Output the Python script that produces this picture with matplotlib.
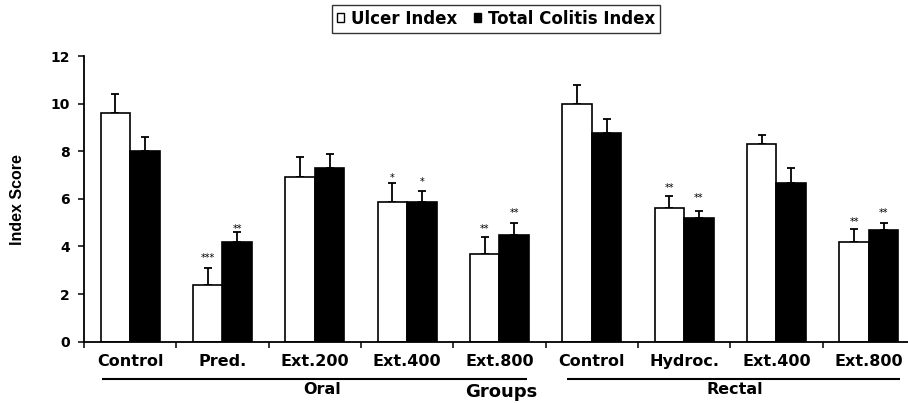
import matplotlib
matplotlib.use("Agg")
import matplotlib.pyplot as plt
import numpy as np

plt.rcParams['font.family'] = ['DejaVu Sans']

categories = ["Control", "Pred.", "Ext.200", "Ext.400", "Ext.800",
              "Control", "Hydroc.", "Ext.400", "Ext.800"]
ulcer = [9.6, 2.38, 6.92, 5.88, 3.68, 9.97, 5.6, 8.3, 4.2]
ulcer_err = [0.8, 0.7, 0.85, 0.8, 0.7, 0.8, 0.5, 0.37, 0.52]
colitis = [8.0, 4.2, 7.28, 5.88, 4.48, 8.77, 5.18, 6.68, 4.71]
colitis_err = [0.6, 0.42, 0.6, 0.44, 0.52, 0.6, 0.33, 0.6, 0.28]
ulcer_sig = ["", "***", "", "*", "**", "", "**", "", "**"]
ulcer_sig_y = [0, 3.64, 0, 7.0, 4.83, 0, 6.55, 0, 5.16]
colitis_sig = ["", "**", "", "*", "**", "", "**", "", "**"]
colitis_sig_y = [0, 4.83, 0, 6.82, 5.53, 0, 6.13, 0, 5.53]
routes = ["Oral", "Rectal"]
route_line = [(-0.308, 4.295), (4.728, 8.34)]
route_label_x = [2.074, 6.55]

fig = plt.figure(figsize=(9.08, 4.03), dpi=100)
ax = fig.add_axes([84 / 908, 61.3 / 403, 831 / 908, 285.7 / 403])

x = np.arange(len(categories))
w = 0.32
ax.bar(x - w / 2, ulcer, w, color="white", edgecolor="black", linewidth=1.2,
       label="Ulcer Index", zorder=2)
ax.bar(x + w / 2, colitis, w, color="black", edgecolor="black", linewidth=1.2,
       label="Total Colitis Index", zorder=2)
ax.errorbar(x - w / 2, ulcer, yerr=[np.zeros(len(x)), ulcer_err], fmt="none",
            ecolor="black", elinewidth=1.3, capsize=3.0, capthick=1.3, zorder=1)
ax.errorbar(x + w / 2, colitis, yerr=[np.zeros(len(x)), colitis_err], fmt="none",
            ecolor="black", elinewidth=1.3, capsize=3.0, capthick=1.3, zorder=1)

for i in range(len(x)):
    if ulcer_sig[i]:
        ax.annotate(ulcer_sig[i], (x[i] - w / 2, ulcer_sig_y[i]), xytext=(0, -4.1),
                    textcoords="offset points", ha="center", va="baseline", fontsize=7)
    if colitis_sig[i]:
        ax.annotate(colitis_sig[i], (x[i] + w / 2, colitis_sig_y[i]), xytext=(0, -4.1),
                    textcoords="offset points", ha="center", va="baseline", fontsize=7)

ax.set_xlim(-0.5, len(x) - 0.5)
ax.set_ylim(0, 12)
ax.set_yticks(np.arange(0, 13, 2))
ax.set_yticklabels([str(v) for v in range(0, 13, 2)], fontweight="bold", fontsize=10)
ax.set_xticks(x)
ax.set_xticklabels(categories, fontweight="bold", fontsize=11.5)
ax.set_xticks(np.arange(-0.5, len(x), 1.0), minor=True)
ax.tick_params(axis="x", which="major", length=0, pad=9)
ax.tick_params(axis="x", which="minor", length=4, width=1.1, direction="out")
ax.tick_params(axis="y", length=4.3, width=1.1, direction="out", pad=6)
for s in ["top", "right"]:
    ax.spines[s].set_visible(False)
for s in ["left", "bottom"]:
    ax.spines[s].set_linewidth(1.3)

fig.text(18 / 908, 1 - 200 / 403, "Index Score", rotation=90, ha="center",
         va="center", fontweight="bold", fontsize=11.5, family="Liberation Sans")

# route brackets
trans = ax.get_xaxis_transform()
for name, (a, b), lx in zip(routes, route_line, route_label_x):
    ax.plot([a, b], [-0.1316, -0.1316], color="black", lw=1.5,
            transform=trans, clip_on=False, solid_capstyle="butt")
    ax.text(lx, -0.183, name, transform=trans, ha="center",
            va="baseline", fontweight="bold", fontsize=11.5)
ax.text(4.016, -0.1925, "Groups", transform=trans, ha="center", va="baseline",
        fontweight="bold", fontsize=13)

leg = fig.legend(loc="center", bbox_to_anchor=(496 / 908, 1 - 18.5 / 403),
                 ncol=2, frameon=True,
                 fancybox=False, edgecolor="black", handlelength=0.45,
                 handleheight=0.45, handletextpad=0.4, columnspacing=1.0,
                 borderpad=0.3, borderaxespad=0,
                 prop={"weight": "bold", "size": 12})
leg.get_frame().set_linewidth(1.0)
for p in leg.get_patches():
    p.set_linewidth(1.0)

fig.savefig("out.png", dpi=100)
